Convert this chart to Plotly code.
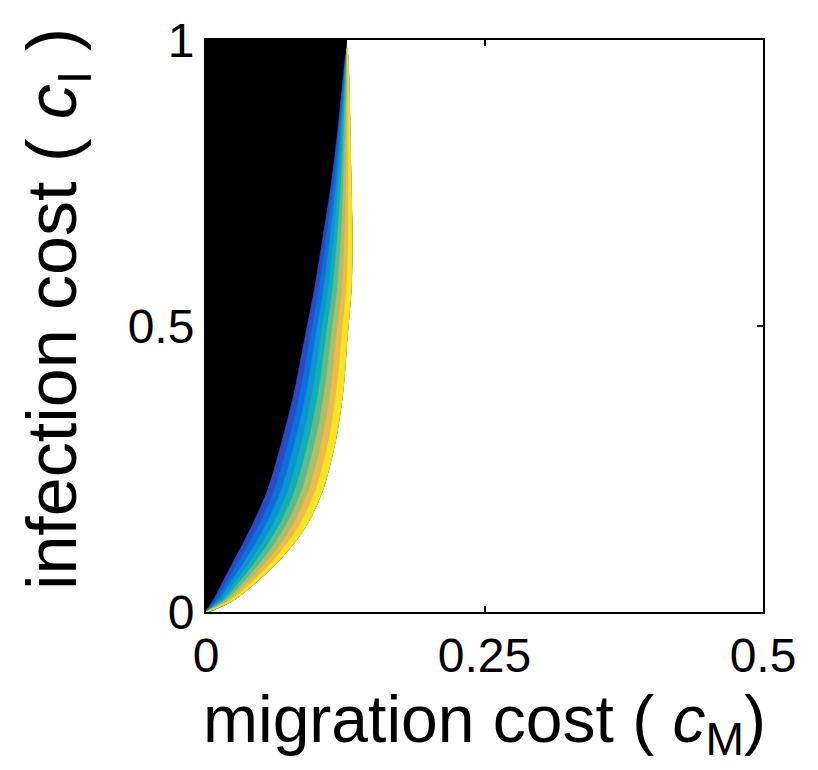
import plotly.graph_objects as go

# Infection cost levels (c_I) at which the band edges are sampled
ci_levels = [0.0, 0.02, 0.055, 0.09, 0.125, 0.16, 0.215, 0.305, 0.39,
             0.48, 0.565, 0.655, 0.74, 0.83, 0.915, 0.965, 0.985]

# Migration cost (c_M) of each band edge, from the black boundary (edge 0)
# to the outer boundary (edge 8), one list per edge, aligned with ci_levels
band_edges = [
    [0.0, .0063, .0157, .0251, .0346, .0435, .0557, .0691, .0799, .0889, .0974, .1050, .1118, .1176, .1221, .1248, .1266],
    [0.0, .0085, .0196, .0302, .0403, .0497, .0618, .0751, .0853, .0936, .1015, .1083, .1141, .1190, .1229, .1251, .1266],
    [0.0, .0108, .0234, .0352, .0461, .0558, .0680, .0810, .0907, .0983, .1056, .1115, .1164, .1205, .1237, .1255, .1266],
    [0.0, .0130, .0273, .0403, .0519, .0619, .0742, .0870, .0961, .1030, .1097, .1148, .1187, .1220, .1244, .1258, .1266],
    [0.0, .0153, .0312, .0453, .0577, .0680, .0803, .0929, .1014, .1077, .1138, .1180, .1210, .1234, .1252, .1261, .1266],
    [0.0, .0175, .0351, .0504, .0635, .0741, .0865, .0989, .1068, .1124, .1179, .1213, .1233, .1249, .1260, .1265, .1266],
    [0.0, .0197, .0389, .0554, .0692, .0802, .0927, .1048, .1122, .1171, .1220, .1245, .1256, .1263, .1268, .1268, .1266],
    [0.0, .0220, .0428, .0605, .0750, .0863, .0989, .1108, .1176, .1219, .1261, .1278, .1279, .1278, .1276, .1271, .1266],
    [0.0, .0242, .0467, .0655, .0808, .0925, .1050, .1167, .1230, .1266, .1302, .1311, .1302, .1293, .1284, .1275, .1266],
]

# Top of the black region at c_I = 1
black_top_cm = 0.1266

# Parula-style band colours, dark blue to yellow
band_colors = ["#2b4ac7", "#0871de", "#0c93d1", "#0faeb9",
               "#59bd8b", "#aebd67", "#f1b94a", "#f5e61c"]

x_ticks = [0, 0.25, 0.5]
x_tick_text = ["0", "0.25", "0.5"]
y_ticks = [0, 0.5, 1]
y_tick_text = ["0", "0.5", "1"]

FONT = "Liberation Sans, Arial, Helvetica, sans-serif"

fig = go.Figure()

# Black region left of the colour bands; its right side runs through the
# middle of the bands so the smoothed band polygons fully cover the seam.
mid = band_edges[4]
bx = [0.0] + mid + [black_top_cm, 0.0, 0.0]
by = [0.0] + ci_levels + [1.0, 1.0, 0.0]
fig.add_trace(go.Scatter(x=bx, y=by, mode="lines", fill="toself",
                         fillcolor="black", line=dict(width=0, color="black"),
                         hoverinfo="skip", showlegend=False))

# Colour bands: each polygon spans from its own edge to the outer boundary,
# drawn in order so later (lighter) bands overlay earlier ones.
outer = band_edges[-1]
for k, col in enumerate(band_colors):
    left = band_edges[k]
    px = left + outer[::-1]
    py = ci_levels + ci_levels[::-1]
    fig.add_trace(go.Scatter(x=px, y=py, mode="lines", fill="toself",
                             fillcolor=col,
                             line=dict(width=0.6, color=col, shape="spline", smoothing=0.8),
                             hoverinfo="skip", showlegend=False))

axis_common = dict(showline=True, linecolor="black", linewidth=2, mirror="ticks",
                   ticks="inside", ticklen=6, tickwidth=1.5, tickcolor="black",
                   showgrid=False, zeroline=False,
                   tickfont=dict(family=FONT, size=48, color="black"))

fig.update_xaxes(range=[0, 0.5], tickvals=x_ticks, ticktext=x_tick_text,
                 title=dict(text="migration cost ( <i>c</i><sub>M</sub>)",
                            font=dict(family=FONT, size=66, color="black"),
                            standoff=2),
                 **axis_common)
fig.update_yaxes(range=[0, 1], tickvals=y_ticks, ticktext=y_tick_text,
                 **axis_common)

# Vertical axis title
fig.add_annotation(text="infection cost ( <i>c</i><sub>I</sub> )",
                   xref="paper", yref="paper", x=-0.267, y=0.53,
                   xanchor="center", yanchor="middle", textangle=-90,
                   showarrow=False,
                   font=dict(family=FONT, size=70, color="black"))

fig.update_layout(width=818, height=770,
                  margin=dict(l=206, r=55, t=40, b=158),
                  plot_bgcolor="white", paper_bgcolor="white")

fig.write_html("out.html")
